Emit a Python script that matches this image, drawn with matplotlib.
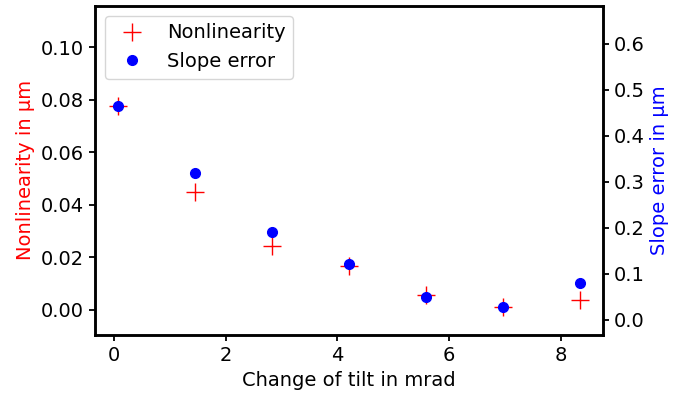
import matplotlib
matplotlib.use("Agg")
import matplotlib.pyplot as plt
import numpy as np

tilt = [0.07, 1.45, 2.83, 4.20, 5.58, 6.96, 8.34]
nonlinearity = [0.0777, 0.0447, 0.0243, 0.0168, 0.0055, 0.0012, 0.0037]
slope_error = [0.465, 0.320, 0.190, 0.121, 0.050, 0.028, 0.080]

plt.rcParams['font.size'] = 14
plt.rcParams['axes.linewidth'] = 1.8
plt.rcParams['xtick.major.width'] = 1.3
plt.rcParams['ytick.major.width'] = 1.3
plt.rcParams['xtick.major.size'] = 4.5
plt.rcParams['ytick.major.size'] = 4.5

fig, ax1 = plt.subplots(figsize=(6.88, 3.94), dpi=100)
fig.subplots_adjust(left=0.138, right=0.876, top=0.985, bottom=0.150)
ax2 = ax1.twinx()

l1, = ax1.plot(tilt, nonlinearity, '+', color='red', markersize=13, label='Nonlinearity')
l2, = ax2.plot(tilt, slope_error, 'o', color='blue', markersize=7, label='Slope error')

ax1.set_ylim(-0.0095, 0.1157)
ax2.set_ylim(-0.0325, 0.682)
ax1.set_yticks([0.00, 0.02, 0.04, 0.06, 0.08, 0.10])
ax2.set_yticks([0.0, 0.1, 0.2, 0.3, 0.4, 0.5, 0.6])

ax1.set_xlabel("Change of tilt in mrad")
ax1.set_ylabel("Nonlinearity in µm", color='red')
ax2.set_ylabel("Slope error in µm", color='blue')

ax2.legend([l1, l2], ['Nonlinearity', 'Slope error'], loc='upper left')

fig.savefig("out.png", dpi=100)
